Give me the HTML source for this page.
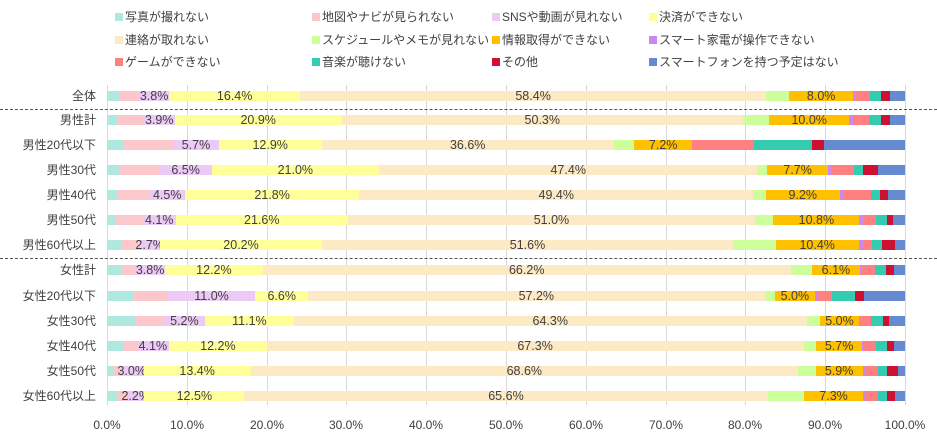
<!DOCTYPE html>
<html><head><meta charset="utf-8"><style>
body{margin:0;width:937px;height:437px;background:#fff;position:relative;overflow:hidden;font-family:"Liberation Sans","Noto Sans CJK JP",sans-serif;color:#404040}
.lg{position:absolute;font-size:12px;line-height:14px;white-space:nowrap}
.lg i{position:absolute;left:-10px;top:3px;width:8px;height:8px}
.gl{position:absolute;top:85px;height:320px;width:1px;background:#d9d9d9}
.xl{position:absolute;top:418px;font-size:12px;width:60px;margin-left:-30px;text-align:center}
.rl{position:absolute;right:841px;font-size:12px;line-height:14px;white-space:nowrap;text-align:right}
.bar{position:absolute;left:107px;width:798px;height:10px;display:flex}
.bar span{height:10px;font-size:12.5px;line-height:10px;white-space:nowrap;overflow:visible;display:flex;justify-content:center;flex:none;min-width:0}
.dash{position:absolute;left:0;width:937px;border-top:1px dashed #555}
.a{background:#aee8de}.b{background:#fcc8cc}.c{background:#eccaf5}.d{background:#ffff99}.e{background:#fde9c4}.f{background:#ccff99}.g{background:#ffc000}.h{background:#cc88ee}.j{background:#ff8080}.k{background:#33ccb0}.m{background:#cc1133}.bar span.n{background:#668ad0;flex:1 1 0}
</style></head><body>
<div class="lg" style="left:125px;top:10px"><i class="a"></i>写真が撮れない</div>
<div class="lg" style="left:322px;top:10px"><i class="b"></i>地図やナビが見られない</div>
<div class="lg" style="left:502px;top:10px"><i class="c"></i>SNSや動画が見れない</div>
<div class="lg" style="left:659px;top:10px"><i class="d"></i>決済ができない</div>
<div class="lg" style="left:125px;top:33px"><i class="e"></i>連絡が取れない</div>
<div class="lg" style="left:322px;top:33px"><i class="f"></i>スケジュールやメモが見れない</div>
<div class="lg" style="left:502px;top:33px"><i class="g"></i>情報取得ができない</div>
<div class="lg" style="left:659px;top:33px"><i class="h"></i>スマート家電が操作できない</div>
<div class="lg" style="left:125px;top:55px"><i class="j"></i>ゲームができない</div>
<div class="lg" style="left:322px;top:55px"><i class="k"></i>音楽が聴けない</div>
<div class="lg" style="left:502px;top:55px"><i class="m"></i>その他</div>
<div class="lg" style="left:659px;top:55px"><i class="n" style="background:#668ad0"></i>スマートフォンを持つ予定はない</div>

<div class="gl" style="left:107px"></div><div class="gl" style="left:187px"></div><div class="gl" style="left:267px"></div><div class="gl" style="left:346px"></div><div class="gl" style="left:426px"></div><div class="gl" style="left:506px"></div><div class="gl" style="left:586px"></div><div class="gl" style="left:666px"></div><div class="gl" style="left:745px"></div><div class="gl" style="left:825px"></div><div class="gl" style="left:905px"></div>
<div class="xl" style="left:107px">0.0%</div><div class="xl" style="left:187px">10.0%</div><div class="xl" style="left:267px">20.0%</div><div class="xl" style="left:346px">30.0%</div><div class="xl" style="left:426px">40.0%</div><div class="xl" style="left:506px">50.0%</div><div class="xl" style="left:586px">60.0%</div><div class="xl" style="left:666px">70.0%</div><div class="xl" style="left:745px">80.0%</div><div class="xl" style="left:825px">90.0%</div><div class="xl" style="left:905px">100.0%</div>

<div class="dash" style="top:109px"></div>
<div class="dash" style="top:258px"></div>

<div class="rl" style="top:89px">全体</div>
<div class="rl" style="top:113px">男性計</div>
<div class="rl" style="top:138px">男性20代以下</div>
<div class="rl" style="top:163px">男性30代</div>
<div class="rl" style="top:188px">男性40代</div>
<div class="rl" style="top:213px">男性50代</div>
<div class="rl" style="top:238px">男性60代以上</div>
<div class="rl" style="top:263px">女性計</div>
<div class="rl" style="top:289px">女性20代以下</div>
<div class="rl" style="top:314px">女性30代</div>
<div class="rl" style="top:339px">女性40代</div>
<div class="rl" style="top:364px">女性50代</div>
<div class="rl" style="top:389px">女性60代以上</div>

<div class="bar" style="top:91px"><span class="a" style="width:1.6%"></span><span class="b" style="width:2.4%"></span><span class="c" style="width:3.8%">3.8%</span><span class="d" style="width:16.4%">16.4%</span><span class="e" style="width:58.4%">58.4%</span><span class="f" style="width:2.9%"></span><span class="g" style="width:8.0%">8.0%</span><span class="h" style="width:0.4%"></span><span class="j" style="width:1.7%"></span><span class="k" style="width:1.4%"></span><span class="m" style="width:1.1%"></span><span class="n"></span></div>
<div class="bar" style="top:115px"><span class="a" style="width:1.3%"></span><span class="b" style="width:3.3%"></span><span class="c" style="width:3.9%">3.9%</span><span class="d" style="width:20.9%">20.9%</span><span class="e" style="width:50.3%">50.3%</span><span class="f" style="width:3.3%"></span><span class="g" style="width:10.0%">10.0%</span><span class="h" style="width:0.5%"></span><span class="j" style="width:2.0%"></span><span class="k" style="width:1.5%"></span><span class="m" style="width:1.1%"></span><span class="n"></span></div>
<div class="bar" style="top:140px"><span class="a" style="width:2.1%"></span><span class="b" style="width:6.2%"></span><span class="c" style="width:5.7%">5.7%</span><span class="d" style="width:12.9%">12.9%</span><span class="e" style="width:36.6%">36.6%</span><span class="f" style="width:2.6%"></span><span class="g" style="width:7.2%">7.2%</span><span class="j" style="width:7.8%"></span><span class="k" style="width:7.3%"></span><span class="m" style="width:1.5%"></span><span class="n"></span></div>
<div class="bar" style="top:165px"><span class="a" style="width:1.5%"></span><span class="b" style="width:5.1%"></span><span class="c" style="width:6.5%">6.5%</span><span class="d" style="width:21.0%">21.0%</span><span class="e" style="width:47.4%">47.4%</span><span class="f" style="width:1.2%"></span><span class="g" style="width:7.7%">7.7%</span><span class="h" style="width:0.4%"></span><span class="j" style="width:2.8%"></span><span class="k" style="width:1.2%"></span><span class="m" style="width:1.8%"></span><span class="n"></span></div>
<div class="bar" style="top:190px"><span class="a" style="width:1.3%"></span><span class="b" style="width:4.0%"></span><span class="c" style="width:4.5%">4.5%</span><span class="d" style="width:21.8%">21.8%</span><span class="e" style="width:49.4%">49.4%</span><span class="f" style="width:1.6%"></span><span class="g" style="width:9.2%">9.2%</span><span class="h" style="width:0.4%"></span><span class="j" style="width:3.5%"></span><span class="k" style="width:1.2%"></span><span class="m" style="width:1.0%"></span><span class="n"></span></div>
<div class="bar" style="top:215px"><span class="a" style="width:1.0%"></span><span class="b" style="width:3.5%"></span><span class="c" style="width:4.1%">4.1%</span><span class="d" style="width:21.6%">21.6%</span><span class="e" style="width:51.0%">51.0%</span><span class="f" style="width:2.3%"></span><span class="g" style="width:10.8%">10.8%</span><span class="h" style="width:0.4%"></span><span class="j" style="width:1.7%"></span><span class="k" style="width:1.3%"></span><span class="m" style="width:0.8%"></span><span class="n"></span></div>
<div class="bar" style="top:240px"><span class="a" style="width:1.8%"></span><span class="b" style="width:2.2%"></span><span class="c" style="width:2.7%">2.7%</span><span class="d" style="width:20.2%">20.2%</span><span class="e" style="width:51.6%">51.6%</span><span class="f" style="width:5.3%"></span><span class="g" style="width:10.4%">10.4%</span><span class="h" style="width:0.5%"></span><span class="j" style="width:1.2%"></span><span class="k" style="width:1.2%"></span><span class="m" style="width:1.6%"></span><span class="n"></span></div>
<div class="bar" style="top:265px"><span class="a" style="width:1.8%"></span><span class="b" style="width:1.7%"></span><span class="c" style="width:3.8%">3.8%</span><span class="d" style="width:12.2%">12.2%</span><span class="e" style="width:66.2%">66.2%</span><span class="f" style="width:2.6%"></span><span class="g" style="width:6.1%">6.1%</span><span class="h" style="width:0.2%"></span><span class="j" style="width:1.6%"></span><span class="k" style="width:1.4%"></span><span class="m" style="width:1.0%"></span><span class="n"></span></div>
<div class="bar" style="top:291px"><span class="a" style="width:3.3%"></span><span class="b" style="width:4.3%"></span><span class="c" style="width:11.0%">11.0%</span><span class="d" style="width:6.6%">6.6%</span><span class="e" style="width:57.2%">57.2%</span><span class="f" style="width:1.3%"></span><span class="g" style="width:5.0%">5.0%</span><span class="h" style="width:0.4%"></span><span class="j" style="width:1.7%"></span><span class="k" style="width:3.0%"></span><span class="m" style="width:1.1%"></span><span class="n"></span></div>
<div class="bar" style="top:316px"><span class="a" style="width:3.5%"></span><span class="b" style="width:3.6%"></span><span class="c" style="width:5.2%">5.2%</span><span class="d" style="width:11.1%">11.1%</span><span class="e" style="width:64.3%">64.3%</span><span class="f" style="width:1.6%"></span><span class="g" style="width:5.0%">5.0%</span><span class="j" style="width:1.5%"></span><span class="k" style="width:1.4%"></span><span class="m" style="width:0.8%"></span><span class="n"></span></div>
<div class="bar" style="top:341px"><span class="a" style="width:2.0%"></span><span class="b" style="width:1.7%"></span><span class="c" style="width:4.1%">4.1%</span><span class="d" style="width:12.2%">12.2%</span><span class="e" style="width:67.3%">67.3%</span><span class="f" style="width:1.6%"></span><span class="g" style="width:5.7%">5.7%</span><span class="h" style="width:0.3%"></span><span class="j" style="width:1.5%"></span><span class="k" style="width:1.4%"></span><span class="m" style="width:0.8%"></span><span class="n"></span></div>
<div class="bar" style="top:366px"><span class="a" style="width:0.8%"></span><span class="b" style="width:0.8%"></span><span class="c" style="width:3.0%">3.0%</span><span class="d" style="width:13.4%">13.4%</span><span class="e" style="width:68.6%">68.6%</span><span class="f" style="width:2.2%"></span><span class="g" style="width:5.9%">5.9%</span><span class="h" style="width:0.3%"></span><span class="j" style="width:1.6%"></span><span class="k" style="width:1.1%"></span><span class="m" style="width:1.4%"></span><span class="n"></span></div>
<div class="bar" style="top:391px"><span class="a" style="width:1.3%"></span><span class="b" style="width:1.2%"></span><span class="c" style="width:2.2%">2.2%</span><span class="d" style="width:12.5%">12.5%</span><span class="e" style="width:65.6%">65.6%</span><span class="f" style="width:4.6%"></span><span class="g" style="width:7.3%">7.3%</span><span class="h" style="width:0.3%"></span><span class="j" style="width:1.6%"></span><span class="k" style="width:1.1%"></span><span class="m" style="width:1.0%"></span><span class="n"></span></div>
</body></html>
